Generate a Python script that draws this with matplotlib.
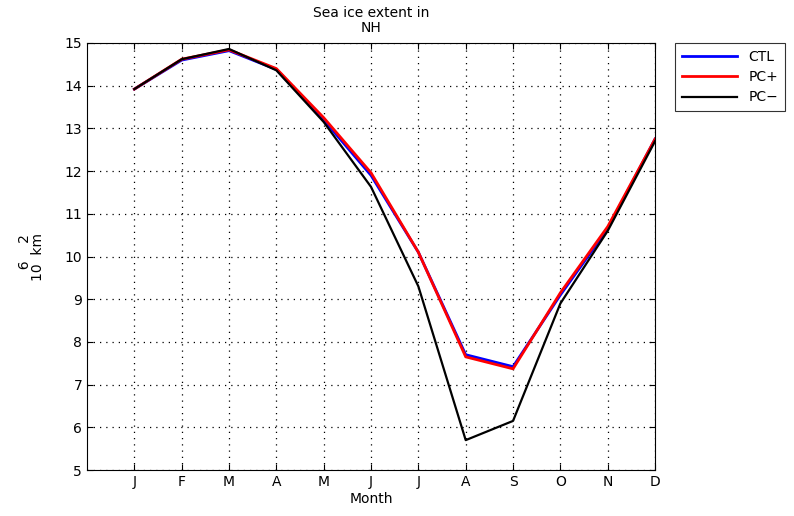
import numpy as np
import matplotlib.pyplot as plt

months = ['J', 'F', 'M', 'A', 'M', 'J', 'J', 'A', 'S', 'O', 'N', 'D']
ctl = [13.92, 14.6, 14.82, 14.38, 13.2, 11.9, 10.1, 7.7, 7.42, 9.1, 10.65, 12.75]
pc_plus = [13.92, 14.62, 14.84, 14.4, 13.25, 11.96, 10.1, 7.65, 7.37, 9.15, 10.7, 12.75]
pc_minus = [13.92, 14.62, 14.86, 14.36, 13.15, 11.63, 9.3, 5.7, 6.15, 8.9, 10.6, 12.7]

x = np.arange(1, 13)

fig = plt.figure(figsize=(7.94, 5.16), dpi=100)
ax = fig.add_axes([0.1096, 0.0891, 0.7154, 0.8276])

ax.plot(x, ctl, color='blue', lw=2, label='CTL')
ax.plot(x, pc_plus, color='red', lw=2, label='PC+')
ax.plot(x, pc_minus, color='black', lw=1.6, label='PC\u2212')

ax.set_xlim(0, 12)
ax.set_ylim(5, 15)
ax.set_xticks(x)
ax.set_xticklabels(months)
ax.set_yticks(np.arange(5, 16, 1))
ax.tick_params(direction='in', labelsize=10, length=4, top=True, right=True)
ax.grid(True, linestyle=(0, (1, 4)), color='black', lw=0.9)

ax.set_title('Sea ice extent in\nNH', fontsize=10, linespacing=1.1, pad=8)
ax.set_xlabel('Month', fontsize=10, labelpad=2)
ax.set_ylabel('  6    2\n10  km', fontsize=10, linespacing=0.9, labelpad=14)

leg = ax.legend(loc='upper left', bbox_to_anchor=(1.035, 1.0), fontsize=10,
                frameon=True, fancybox=False, edgecolor='black',
                handlelength=4.0, borderaxespad=0, labelspacing=0.45,
                borderpad=0.5)
leg.get_frame().set_linewidth(0.8)

fig.savefig('out.png', dpi=100)
